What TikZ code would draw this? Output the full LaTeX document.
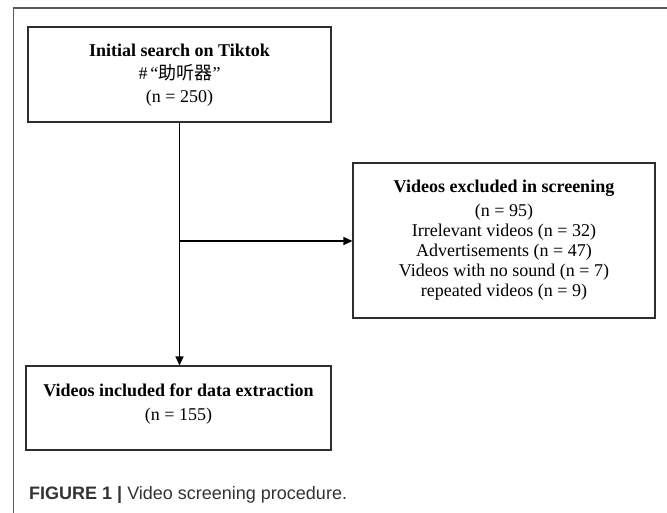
\documentclass[tikz,border=0pt]{standalone}
\usepackage{fontspec}
\setmainfont{Liberation Serif}
\newfontfamily\capfont{Liberation Sans}
\newfontfamily\cjk{Noto Sans CJK SC}
\usetikzlibrary{arrows.meta}
\definecolor{framegray}{HTML}{5A5A5A}
\definecolor{boxline}{HTML}{2E2E2E}
\definecolor{captext}{HTML}{333333}
\begin{document}
\begin{tikzpicture}[x=1pt,y=-1pt,
  stagebox/.style={draw=boxline, line width=1.1pt, inner sep=0pt},
  boxtext/.style={align=center, inner sep=0pt, font=\fontsize{18}{23.5}\selectfont},
  flow/.style={draw=black, line width=1.2pt, -{Triangle[length=9pt,width=8pt]}}]
\useasboundingbox (0,0) rectangle (667,513);
% outer frame
\coordinate (fbl) at (13.5,513);
\coordinate (ftl) at (13.5,8);
\coordinate (ftr) at (667,8);
\draw[framegray, line width=1.4pt] (fbl) -- (ftl) -- (ftr);
% boxes
\node[stagebox, minimum width=303pt, minimum height=95pt] (b1) at (179.5,74.5) {};
\node[stagebox, minimum width=302pt, minimum height=155pt] (b2) at (504,240.5) {};
\node[stagebox, minimum width=305pt, minimum height=84pt] (b3) at (178.5,408) {};
% texts
\node[boxtext, font=\fontsize{18}{23}\selectfont] (t1) at (179.5,75) {\textbf{Initial search on Tiktok}\\ \#\,“{\cjk 助听器}”\\ (n = 250)};
\node[boxtext, font=\fontsize{18}{20.2}\selectfont] (t2) at (504,240.5) {\textbf{Videos excluded in screening}\\[3pt] (n = 95)\\ Irrelevant videos (n = 32)\\ Advertisements (n = 47)\\ Videos with no sound (n = 7)\\ repeated videos (n = 9)};
\node[boxtext] (t3) at (178.5,404) {\textbf{Videos included for data extraction}\\ (n = 155)};
% connectors
\coordinate (j) at (179.5,241);
\draw[flow] (b1.south) -- (b1.south |- b3.north);
\draw[flow] (j) -- (j -| b2.west);
% caption
\node[anchor=west, inner sep=0pt, text=captext, font=\capfont\fontsize{18}{20}\selectfont] (cap) at (29,495) {\textbf{FIGURE 1 |} Video screening procedure.};
\end{tikzpicture}
\end{document}
